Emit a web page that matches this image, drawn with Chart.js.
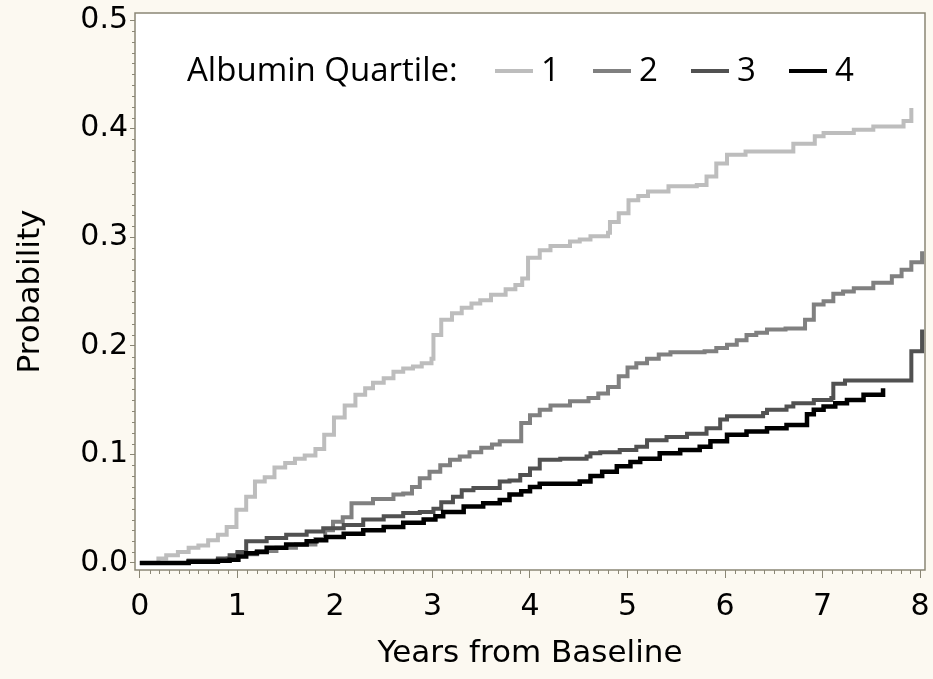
<!DOCTYPE html>
<html lang="en">
<head>
<meta charset="UTF-8">
<title>Albumin Quartile</title>
<script src="https://cdn.jsdelivr.net/npm/chart.js"></script>
<style>
  html, body { margin: 0; padding: 0; background: #fcf9f1; }
  #wrap { width: 933px; height: 679px; }
</style>
</head>
<body>
<div id="wrap"><canvas id="myChart" width="933" height="679"></canvas></div>
<script>
// cumulative probability (time in years, probability)
var q1Years = [0, 0.19, 0.27, 0.39, 0.50, 0.60, 0.70, 0.80, 0.89, 0.99, 1.09, 1.18, 1.28, 1.38, 1.49, 1.59, 1.69, 1.80, 1.89, 1.99,
  2.10, 2.21, 2.31, 2.39, 2.50, 2.60, 2.70, 2.80, 2.89, 2.99, 3.01, 3.09, 3.20, 3.30, 3.40, 3.49, 3.60, 3.75, 3.85, 3.92, 3.98,
  4.10, 4.21, 4.41, 4.51, 4.62, 4.80, 4.82, 4.91, 5.01, 5.11, 5.21, 5.42, 5.71, 5.81, 5.91, 6.02, 6.21, 6.70, 6.92, 7.01,
  7.32, 7.52, 7.83, 7.91];
var q1Prob = [0, 0.004, 0.007, 0.010, 0.014, 0.016, 0.021, 0.026, 0.033, 0.049, 0.061, 0.075, 0.079, 0.088, 0.092, 0.096, 0.099, 0.105, 0.118, 0.134,
  0.145, 0.155, 0.161, 0.166, 0.170, 0.176, 0.179, 0.181, 0.184, 0.188, 0.210, 0.224, 0.230, 0.235, 0.239, 0.242, 0.247, 0.252, 0.256, 0.262, 0.281,
  0.288, 0.292, 0.296, 0.298, 0.301, 0.304, 0.314, 0.322, 0.334, 0.338, 0.342, 0.347, 0.348, 0.356, 0.368, 0.376, 0.379, 0.386, 0.393, 0.396,
  0.399, 0.402, 0.407, 0.419];

var q2Years = [0, 0.50, 0.90, 1.00, 1.20, 1.40, 1.60, 1.80, 1.90, 1.98, 2.08, 2.17, 2.39, 2.60, 2.70, 2.79, 2.87, 2.97, 3.08, 3.18,
  3.28, 3.38, 3.50, 3.61, 3.69, 3.91, 4.00, 4.10, 4.21, 4.41, 4.60, 4.70, 4.80, 4.91, 5.00, 5.09, 5.20, 5.32, 5.44, 5.79,
  5.91, 6.02, 6.12, 6.22, 6.32, 6.43, 6.62, 6.82, 6.91, 7.01, 7.11, 7.21, 7.32, 7.52, 7.71, 7.81, 7.91, 8.02];
var q2Prob = [0, 0.002, 0.004, 0.008, 0.011, 0.014, 0.017, 0.022, 0.030, 0.038, 0.042, 0.055, 0.059, 0.063, 0.064, 0.070, 0.078, 0.084, 0.090, 0.095,
  0.098, 0.102, 0.106, 0.109, 0.112, 0.129, 0.136, 0.141, 0.145, 0.149, 0.152, 0.156, 0.162, 0.172, 0.180, 0.184, 0.188, 0.192, 0.194, 0.195,
  0.198, 0.201, 0.205, 0.210, 0.212, 0.215, 0.216, 0.224, 0.238, 0.241, 0.248, 0.250, 0.253, 0.258, 0.264, 0.270, 0.277, 0.287];

var q3Years = [0, 0.50, 0.80, 0.92, 1.00, 1.09, 1.30, 1.50, 1.71, 1.88, 2.09, 2.29, 2.50, 2.70, 2.87, 3.01, 3.09, 3.21, 3.30, 3.42,
  3.69, 3.79, 3.90, 4.00, 4.10, 4.31, 4.58, 4.62, 4.72, 4.92, 5.09, 5.20, 5.40, 5.61, 5.81, 5.95, 6.02, 6.39, 6.43, 6.63,
  6.70, 6.91, 7.09, 7.11, 7.23, 7.91, 8.02];
var q3Prob = [0, 0.002, 0.004, 0.007, 0.010, 0.020, 0.023, 0.026, 0.029, 0.032, 0.035, 0.040, 0.043, 0.046, 0.047, 0.050, 0.056, 0.061, 0.067, 0.069,
  0.075, 0.076, 0.081, 0.087, 0.095, 0.096, 0.098, 0.101, 0.102, 0.104, 0.107, 0.113, 0.116, 0.119, 0.124, 0.132, 0.135, 0.138, 0.141, 0.144,
  0.147, 0.150, 0.152, 0.165, 0.168, 0.195, 0.215];

var q4Years = [0, 0.50, 0.80, 0.92, 1.01, 1.09, 1.20, 1.30, 1.50, 1.71, 1.81, 1.91, 2.09, 2.29, 2.50, 2.70, 2.91, 3.03, 3.11, 3.32,
  3.52, 3.69, 3.79, 3.91, 4.00, 4.10, 4.51, 4.62, 4.74, 4.89, 5.03, 5.13, 5.33, 5.54, 5.74, 5.85, 6.02, 6.22, 6.43, 6.63,
  6.84, 6.91, 7.01, 7.13, 7.25, 7.42, 7.62];
var q4Prob = [0, 0.001, 0.002, 0.003, 0.006, 0.009, 0.010, 0.014, 0.017, 0.020, 0.021, 0.024, 0.027, 0.030, 0.033, 0.037, 0.040, 0.043, 0.047, 0.052,
  0.055, 0.058, 0.063, 0.066, 0.070, 0.073, 0.075, 0.080, 0.084, 0.089, 0.093, 0.096, 0.101, 0.104, 0.107, 0.112, 0.118, 0.121, 0.124, 0.127,
  0.137, 0.141, 0.144, 0.147, 0.150, 0.155, 0.161];

var quartileLabels = ['1', '2', '3', '4'];
var quartileColors = ['#bdbdbd', '#808080', '#515151', '#000000'];
var xTickValues = [0, 1, 2, 3, 4, 5, 6, 7, 8];
var yTickValues = [0, 0.1, 0.2, 0.3, 0.4, 0.5];

var axisColor = '#8a8675';

function toPoints(xs, ys) {
  var pts = [];
  for (var i = 0; i < xs.length; i++) pts.push({ x: xs[i], y: ys[i] });
  return pts;
}

var allYears = [q1Years, q2Years, q3Years, q4Years];
var allProb = [q1Prob, q2Prob, q3Prob, q4Prob];
var datasets = [];
for (var i = 0; i < 4; i++) {
  datasets.push({
    label: quartileLabels[i],
    data: toPoints(allYears[i], allProb[i]),
    borderColor: quartileColors[i],
    borderWidth: i == 3 ? 4.5 : 4,
    stepped: true,
    pointRadius: 0,
    fill: false,
    order: 4 - i
  });
}

// cream page, white plot area, frame and minor ticks
var framePlugin = {
  id: 'frame',
  beforeDraw: function (chart) {
    var ctx = chart.ctx, a = chart.chartArea;
    ctx.save();
    ctx.fillStyle = '#fcf9f1';
    ctx.fillRect(0, 0, chart.width, chart.height);
    ctx.fillStyle = '#ffffff';
    ctx.fillRect(a.left, a.top, a.right - a.left, a.bottom - a.top);
    ctx.restore();
  },
  afterDraw: function (chart) {
    var ctx = chart.ctx, a = chart.chartArea;
    var xs = chart.scales.x, ys = chart.scales.y;
    ctx.save();
    ctx.strokeStyle = axisColor;
    ctx.lineWidth = 1.5;
    ctx.strokeRect(a.left, a.top, a.right - a.left, a.bottom - a.top);
    ctx.lineWidth = 1;
    ctx.beginPath();
    for (var i = 1; i < 80; i++) {
      if (i % 10 == 0) continue;
      var px = Math.round(xs.getPixelForValue(i / 10)) + 0.5;
      ctx.moveTo(px, a.bottom);
      ctx.lineTo(px, a.bottom + 4);
    }
    for (var j = 1; j < 50; j++) {
      if (j % 10 == 0) continue;
      var py = Math.round(ys.getPixelForValue(j / 100)) + 0.5;
      ctx.moveTo(a.left - 3, py);
      ctx.lineTo(a.left, py);
    }
    ctx.stroke();
    ctx.restore();
  }
};

// legend inside the plot: "Albumin Quartile:" then line samples
var legendPlugin = {
  id: 'quartileLegend',
  afterDatasetsDraw: function (chart) {
    var ctx = chart.ctx;
    ctx.save();
    ctx.font = '33px "Open Sans"';
    ctx.fillStyle = '#000';
    ctx.textBaseline = 'middle';
    ctx.textAlign = 'left';
    ctx.fillText('Albumin Quartile:', 187, 72);
    chart.data.datasets.forEach(function (ds, k) {
      var x0 = 495 + 98 * k;
      ctx.strokeStyle = ds.borderColor;
      ctx.lineWidth = 4;
      ctx.beginPath();
      ctx.moveTo(x0, 71);
      ctx.lineTo(x0 + 38, 71);
      ctx.stroke();
      ctx.fillText(ds.label, x0 + 46, 72);
    });
    ctx.restore();
  }
};

var myChart = new Chart(document.getElementById('myChart'), {
  type: 'line',
  data: { datasets: datasets },
  options: {
    responsive: false,
    animation: false,
    layout: { padding: { top: 13, right: 8, left: 0, bottom: 0 } },
    plugins: {
      legend: { display: false },
      tooltip: { enabled: false }
    },
    scales: {
      x: {
        type: 'linear',
        min: -0.05,
        max: 8.05,
        afterBuildTicks: function (scale) {
          scale.ticks = xTickValues.map(function (v) { return { value: v }; });
        },
        afterFit: function (scale) {
          scale.height = 109;
          scale.paddingLeft = 0;
          scale.paddingRight = 0;
        },
        ticks: {
          color: '#000',
          font: { family: 'DejaVu Sans', size: 30 },
          padding: 11,
          maxRotation: 0,
          callback: function (v) { return String(v); }
        },
        grid: { drawOnChartArea: false, tickLength: 8, tickColor: axisColor, tickWidth: 1 },
        border: { display: false },
        title: {
          display: true,
          text: 'Years from Baseline',
          color: '#000',
          font: { family: 'DejaVu Sans', size: 31 },
          padding: { top: 0, bottom: 6 }
        }
      },
      y: {
        type: 'linear',
        min: -0.0065,
        max: 0.5065,
        afterBuildTicks: function (scale) {
          scale.ticks = yTickValues.map(function (v) { return { value: v }; });
        },
        afterFit: function (scale) {
          scale.width = 135;
          scale.paddingTop = 0;
          scale.paddingBottom = 0;
        },
        ticks: {
          color: '#000',
          font: { family: 'DejaVu Sans', size: 30 },
          padding: 2,
          callback: function (v) { return v.toFixed(1); }
        },
        grid: { drawOnChartArea: false, tickLength: 5, tickColor: axisColor, tickWidth: 1 },
        border: { display: false },
        title: {
          display: true,
          text: 'Probability',
          color: '#000',
          font: { family: 'DejaVu Sans', size: 31 },
          padding: { top: 12, bottom: 0 }
        }
      }
    }
  },
  plugins: [framePlugin, legendPlugin]
});
</script>
</body>
</html>
